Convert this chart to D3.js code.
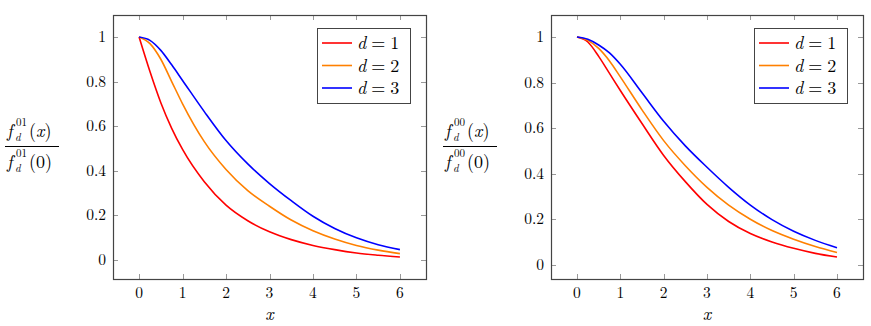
<!DOCTYPE html>
<html>
<head>
<meta charset="utf-8">
<script src="https://cdn.jsdelivr.net/npm/d3@7"></script>
<style>
  body { margin: 0; background: #fff; }
  svg text { font-family: "Latin Modern Roman", "CMU Serif", "Liberation Serif", "Tinos", "Times New Roman", "Noto Serif", "DejaVu Serif", "FreeSerif", serif; fill: #000; }
</style>
</head>
<body>
<svg id="chart" width="871" height="326"></svg>
<script>
"use strict";

// sample points along x
var xs = [0, 0.25, 0.5, 0.75, 1, 1.5, 2, 2.5, 3, 3.5, 4, 4.5, 5, 5.5, 6];

// left panel: f_d^{01}(x) / f_d^{01}(0)
var f01_d1 = [1, 0.845, 0.705, 0.59, 0.495, 0.35, 0.245, 0.175, 0.125, 0.09, 0.064, 0.045, 0.03, 0.02, 0.012];
var f01_d2 = [1, 0.97, 0.9, 0.8, 0.7, 0.53, 0.405, 0.31, 0.24, 0.178, 0.13, 0.093, 0.064, 0.043, 0.027];
var f01_d3 = [1, 0.985, 0.94, 0.875, 0.805, 0.665, 0.535, 0.43, 0.342, 0.265, 0.195, 0.14, 0.098, 0.067, 0.045];

// right panel: f_d^{00}(x) / f_d^{00}(0)
var f00_d1 = [1, 0.978, 0.915, 0.84, 0.765, 0.62, 0.48, 0.365, 0.265, 0.19, 0.137, 0.1, 0.072, 0.05, 0.034];
var f00_d2 = [1, 0.985, 0.95, 0.895, 0.825, 0.68, 0.545, 0.435, 0.34, 0.262, 0.2, 0.15, 0.112, 0.08, 0.054];
var f00_d3 = [1, 0.99, 0.965, 0.93, 0.88, 0.755, 0.63, 0.522, 0.428, 0.34, 0.262, 0.198, 0.147, 0.107, 0.075];

var xTicks = [0, 1, 2, 3, 4, 5, 6];
var yTicks = [0, 0.2, 0.4, 0.6, 0.8, 1];
var legendLabels = ["1", "2", "3"];
var colors = ["#ff0000", "#ff8000", "#0000ff"];

var svg = d3.select("#chart");

function drawPanel(opts) {
    var left = opts.left, right = opts.right, top = 15, bottom = 279;
    var g = svg.append("g");

    // pgfplots style: enlarge limits by 10% of the data range
    var all = d3.merge(opts.series);
    var ymin = d3.min(all), ymax = d3.max(all);
    var xmin = d3.min(xs), xmax = d3.max(xs);
    var ex = 0.1 * (xmax - xmin), ey = 0.1 * (ymax - ymin);

    var x = d3.scaleLinear().domain([xmin - ex, xmax + ex]).range([left, right]);
    var y = d3.scaleLinear().domain([ymin - ey, ymax + ey]).range([bottom, top]);

    var tickLen = 5;
    var ticks = g.append("g").attr("stroke", "#999").attr("stroke-width", 1);
    xTicks.forEach(function(t) {
        var px = Math.round(x(t)) + 0.5;
        ticks.append("line").attr("x1", px).attr("x2", px).attr("y1", bottom).attr("y2", bottom - tickLen);
        ticks.append("line").attr("x1", px).attr("x2", px).attr("y1", top).attr("y2", top + tickLen);
        g.append("text").attr("x", x(t)).attr("y", bottom + 19)
            .attr("text-anchor", "middle").attr("font-size", 15.5).text(t);
    });
    yTicks.forEach(function(t) {
        var py = Math.round(y(t)) + 0.5;
        ticks.append("line").attr("x1", left).attr("x2", left + tickLen).attr("y1", py).attr("y2", py);
        ticks.append("line").attr("x1", right).attr("x2", right - tickLen).attr("y1", py).attr("y2", py);
        g.append("text").attr("x", left - 7).attr("y", y(t) + 5)
            .attr("text-anchor", "end").attr("font-size", 15.5).text(t);
    });

    // monotone cubic in x copes with the finer steps near 0
    var line = d3.line()
        .x(function(d) { return x(d[0]); })
        .y(function(d) { return y(d[1]); })
        .curve(d3.curveMonotoneX);

    opts.series.forEach(function(vals, i) {
        g.append("path")
            .datum(d3.zip(xs, vals))
            .attr("fill", "none")
            .attr("stroke", colors[i])
            .attr("stroke-width", 1.6)
            .attr("d", line);
    });

    // frame
    g.append("rect")
        .attr("x", left + 0.5).attr("y", top + 0.5)
        .attr("width", right - left).attr("height", bottom - top)
        .attr("fill", "none").attr("stroke", "#444").attr("stroke-width", 1.2);

    // x label
    g.append("text").attr("x", (left + right) / 2).attr("y", 320)
        .attr("text-anchor", "middle").attr("font-size", 18)
        .attr("font-style", "italic").text("x");

    // y label as a fraction
    var x0 = opts.labelX - 26;
    var lab = g.append("g");
    fracPart(lab, x0, 137, opts.sup, "x");
    fracPart(lab, x0, 168, opts.sup, "0");
    lab.append("line").attr("x1", x0).attr("x2", x0 + 54)
        .attr("y1", 146.5).attr("y2", 146.5).attr("stroke", "#000").attr("stroke-width", 1);

    // legend
    var lx = right - 16 - 93, ly = top + 13;
    var leg = g.append("g");
    leg.append("rect").attr("x", lx + 0.5).attr("y", ly + 0.5).attr("width", 93).attr("height", 75)
        .attr("fill", "#fff").attr("stroke", "#444").attr("stroke-width", 1);
    legendLabels.forEach(function(lbl, i) {
        var ry = ly + 15 + i * 22.5;
        leg.append("line").attr("x1", lx + 5).attr("x2", lx + 35).attr("y1", ry).attr("y2", ry)
            .attr("stroke", colors[i]).attr("stroke-width", 1.6);
        var t = leg.append("text").attr("x", lx + 40).attr("y", ry + 6).attr("font-size", 18);
        t.append("tspan").attr("font-style", "italic").text("d");
        t.append("tspan").attr("dx", 5).text("=");
        t.append("tspan").attr("dx", 5).text(lbl);
    });
}

// one line of the fraction: f with stacked super/subscript, then the argument
function fracPart(sel, x0, base, sup, arg) {
    var t = sel.append("text").attr("font-size", 18);
    t.append("tspan").attr("x", x0 + 2).attr("y", base)
        .attr("font-style", "italic").text("f");
    t.append("tspan").attr("x", x0 + 11).attr("y", base - 11)
        .attr("font-size", 11).text(sup);
    t.append("tspan").attr("x", x0 + 10).attr("y", base + 4)
        .attr("font-size", 11).attr("font-style", "italic").text("d");
    t.append("tspan").attr("x", x0 + 24).attr("y", base).text("(");
    t.append("tspan").attr("font-style", arg === "x" ? "italic" : "normal").text(arg);
    t.append("tspan").text(")");
}

drawPanel({ left: 113, right: 426, series: [f01_d1, f01_d2, f01_d3], sup: "01", labelX: 31 });
drawPanel({ left: 551, right: 863, series: [f00_d1, f00_d2, f00_d3], sup: "00", labelX: 469 });
</script>
</body>
</html>
